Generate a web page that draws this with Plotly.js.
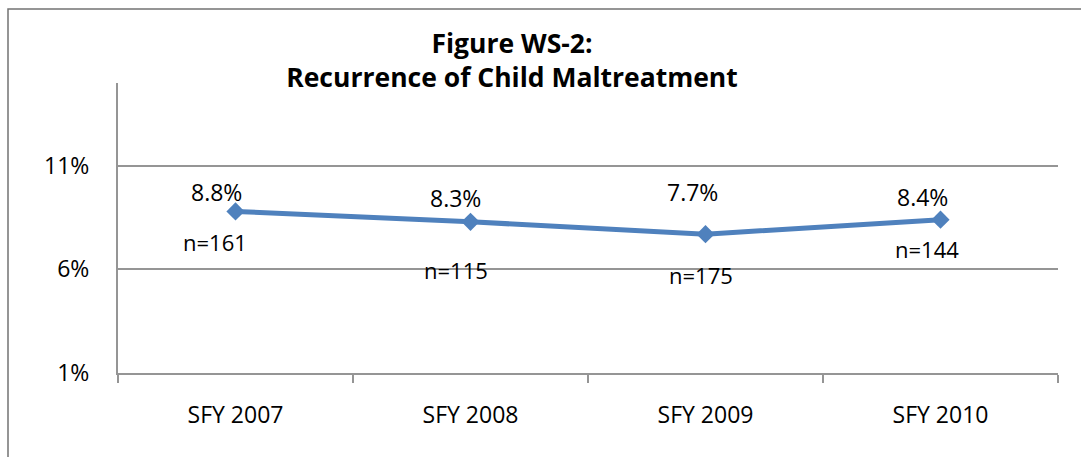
<!DOCTYPE html>
<html>
<head>
<meta charset="utf-8">
<script src="https://cdn.plot.ly/plotly-3.0.1.min.js"></script>
<style>
  html, body { margin: 0; padding: 0; background: #ffffff; }
  #chart { width: 1081px; height: 457px; }
</style>
</head>
<body>
<div id="chart"></div>
<script>
// ---- data ----
const categories = ['SFY 2007', 'SFY 2008', 'SFY 2009', 'SFY 2010'];
const recurrence = [8.8, 8.3, 7.7, 8.4];           // percent
const valueLabels = ['8.8%', '8.3%', '7.7%', '8.4%'];
const countLabels = ['n=161', 'n=115', 'n=175', 'n=144'];
const yTicks = [1, 6, 11];
const yTickLabels = ['1%', '6%', '11%'];

// ---- label offsets (style, px) ----
const valueShiftX = [-19, -15, -13, -18];
const valueShiftY = [19, 24, 42, 23];
const countShiftX = [-21, -15, -5, -14];
const countShiftY = [-31, -48, -41, -29];

const FONT = 'Open Sans, sans-serif';
const BLUE = '#4F81BD';
const GRID = '#959595';

const trace = {
  type: 'scatter',
  mode: 'lines+markers',
  x: categories,
  y: recurrence,
  line: { color: BLUE, width: 5 },
  marker: { symbol: 'diamond', size: 14, color: BLUE },
  hoverinfo: 'x+y',
  showlegend: false
};

const annotations = [];
categories.forEach((c, i) => {
  annotations.push({
    xref: 'x', yref: 'y', x: c, y: recurrence[i],
    text: valueLabels[i], showarrow: false,
    xshift: valueShiftX[i], yshift: valueShiftY[i],
    font: { family: FONT, size: 23, color: '#000' }
  });
  annotations.push({
    xref: 'x', yref: 'y', x: c, y: recurrence[i],
    text: countLabels[i], showarrow: false,
    xshift: countShiftX[i], yshift: countShiftY[i],
    font: { family: FONT, size: 22, color: '#000' }
  });
});

const L = 118, R = 1058, T = 83, B = 373;
const pw = R - L, ph = B - T;
const px = v => (v - L) / pw;
const py = v => (B - v) / ph;

const layout = {
  width: 1081,
  height: 457,
  margin: { l: L, r: 1081 - R, t: T, b: 457 - B, pad: 0 },
  paper_bgcolor: '#ffffff',
  plot_bgcolor: '#ffffff',
  font: { family: FONT, size: 22, color: '#000' },
  title: {
    text: '<b>Figure WS-2:</b><br><b>Recurrence of Child Maltreatment</b>',
    font: { family: FONT, size: 26.5, color: '#000' },
    x: 512 / 1081, xanchor: 'center',
    y: 1 - 53 / 457, yanchor: 'top',
    xref: 'container', yref: 'container'
  },
  xaxis: {
    type: 'category',
    range: [-0.5, 3.5],
    showgrid: false,
    zeroline: false,
    showline: true,
    linecolor: GRID,
    linewidth: 2,
    ticks: 'outside',
    tickson: 'boundaries',
    ticklen: 8,
    tickwidth: 2,
    tickcolor: GRID,
    ticklabelstandoff: 20,
    tickfont: { family: FONT, size: 23, color: '#000' },
    fixedrange: true
  },
  yaxis: {
    range: [1, 15],
    tickvals: yTicks,
    ticktext: yTickLabels,
    showgrid: true,
    gridcolor: GRID,
    gridwidth: 2,
    zeroline: false,
    showline: true,
    linecolor: GRID,
    linewidth: 2,
    ticks: '',
    ticklabelstandoff: 22,
    tickfont: { family: FONT, size: 23, color: '#000' },
    fixedrange: true
  },
  shapes: [{
    type: 'rect', xref: 'paper', yref: 'paper',
    x0: px(8), x1: px(1200), y0: py(600), y1: py(9),
    line: { color: '#737373', width: 1.5 },
    fillcolor: 'rgba(0,0,0,0)', layer: 'below'
  }],
  annotations: annotations
};

Plotly.newPlot('chart', [trace], layout, { displayModeBar: false, staticPlot: true });
</script>
</body>
</html>
